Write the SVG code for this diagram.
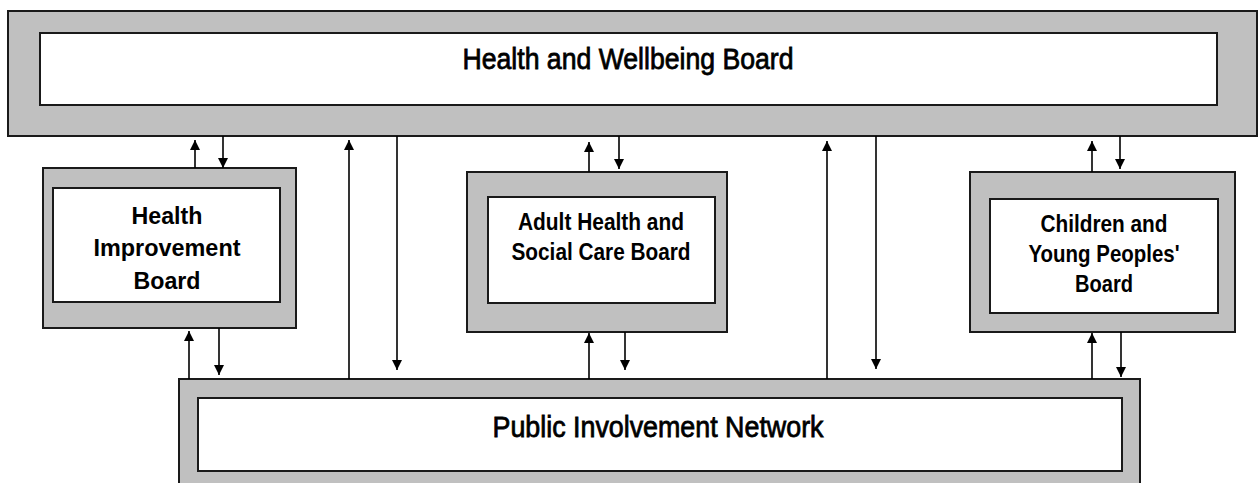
<svg xmlns="http://www.w3.org/2000/svg" width="1258" height="483" viewBox="0 0 1258 483">
<style>
.outer{fill:#c0c0c0;stroke:#1a1a1a;stroke-width:2}
.inner{fill:#ffffff;stroke:#1a1a1a;stroke-width:2}
.big{font-family:"Liberation Sans",Arial,sans-serif;font-size:30px;fill:#000;text-anchor:middle;stroke:#000;stroke-width:0.8}
.sm{font-family:"Liberation Sans",Arial,sans-serif;font-weight:bold;font-size:23px;fill:#000;text-anchor:middle}
.nar{font-family:"Liberation Sans Narrow","Liberation Sans",Arial,sans-serif;font-weight:bold;font-size:24px;fill:#000;text-anchor:middle}
.c{stroke:#000;stroke-width:1.6;fill:none}
</style>
<defs>
<marker id="ah" viewBox="0 0 10 10" refX="10" refY="5" markerWidth="12" markerHeight="10" markerUnits="userSpaceOnUse" orient="auto">
<path d="M0,0 L10,5 L0,10 z" fill="#000"/>
</marker>
</defs>
<rect width="1258" height="483" fill="#fff"/>
<g id="hwb">
<rect class="outer" x="8" y="11" width="1249" height="125"/>
<rect class="inner" x="40" y="33" width="1177" height="72"/>
<text class="big" x="628" y="69" textLength="331" lengthAdjust="spacingAndGlyphs">Health and Wellbeing Board</text>
</g>
<g id="hib">
<rect class="outer" x="43" y="168" width="253" height="160"/>
<rect class="inner" x="53" y="188" width="227" height="114"/>
<text class="sm" x="167" y="224" textLength="71" lengthAdjust="spacingAndGlyphs">Health</text>
<text class="sm" x="167" y="256" textLength="147" lengthAdjust="spacingAndGlyphs">Improvement</text>
<text class="sm" x="167" y="289" textLength="67" lengthAdjust="spacingAndGlyphs">Board</text>
</g>
<g id="ahscb">
<rect class="outer" x="467" y="172" width="260" height="160"/>
<rect class="inner" x="488" y="197" width="227" height="106"/>
<text class="nar" x="601" y="230" textLength="166" lengthAdjust="spacingAndGlyphs">Adult Health and</text>
<text class="nar" x="601" y="260" textLength="179" lengthAdjust="spacingAndGlyphs">Social Care Board</text>
</g>
<g id="cypb">
<rect class="outer" x="970" y="172" width="265" height="160"/>
<rect class="inner" x="990" y="199" width="228" height="114"/>
<text class="nar" x="1104" y="232" textLength="127" lengthAdjust="spacingAndGlyphs">Children and</text>
<text class="nar" x="1104" y="262" textLength="151" lengthAdjust="spacingAndGlyphs">Young Peoples'</text>
<text class="nar" x="1104" y="292" textLength="58" lengthAdjust="spacingAndGlyphs">Board</text>
</g>
<g id="pin">
<rect class="outer" x="179" y="379" width="961" height="110"/>
<rect class="inner" x="198" y="398" width="924" height="73"/>
<text class="big" x="658" y="437" textLength="331" lengthAdjust="spacingAndGlyphs">Public Involvement Network</text>
</g>
<g id="connectors">
<line class="c" x1="195" y1="168" x2="195" y2="140" marker-end="url(#ah)"/>
<line class="c" x1="223" y1="136" x2="223" y2="168" marker-end="url(#ah)"/>
<line class="c" x1="189" y1="379" x2="189" y2="331" marker-end="url(#ah)"/>
<line class="c" x1="219" y1="328" x2="219" y2="375" marker-end="url(#ah)"/>
<line class="c" x1="349" y1="379" x2="349" y2="140" marker-end="url(#ah)"/>
<line class="c" x1="397" y1="136" x2="397" y2="370" marker-end="url(#ah)"/>
<line class="c" x1="589" y1="172" x2="589" y2="142" marker-end="url(#ah)"/>
<line class="c" x1="619" y1="136" x2="619" y2="169" marker-end="url(#ah)"/>
<line class="c" x1="589" y1="379" x2="589" y2="333" marker-end="url(#ah)"/>
<line class="c" x1="625" y1="332" x2="625" y2="370" marker-end="url(#ah)"/>
<line class="c" x1="827" y1="379" x2="827" y2="141" marker-end="url(#ah)"/>
<line class="c" x1="876" y1="136" x2="876" y2="369" marker-end="url(#ah)"/>
<line class="c" x1="1092" y1="172" x2="1092" y2="141" marker-end="url(#ah)"/>
<line class="c" x1="1120" y1="136" x2="1120" y2="169" marker-end="url(#ah)"/>
<line class="c" x1="1092" y1="379" x2="1092" y2="333" marker-end="url(#ah)"/>
<line class="c" x1="1121" y1="332" x2="1121" y2="377" marker-end="url(#ah)"/>
</g>
</svg>
